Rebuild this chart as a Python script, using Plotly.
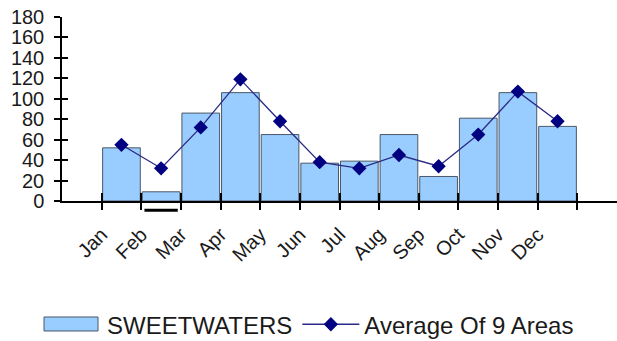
import plotly.graph_objects as go

# Monthly values
months = ["Jan", "Feb", "Mar", "Apr", "May", "Jun",
          "Jul", "Aug", "Sep", "Oct", "Nov", "Dec"]
sweetwaters = [52, 9, 86, 106, 65, 37, 39, 65, 24, 81, 106, 73]
average_9_areas = [55, 32, 72, 119, 78, 38, 32, 45, 34, 65, 107, 78]
y_ticks = [0, 20, 40, 60, 80, 100, 120, 140, 160, 180]

FONT = "Liberation Sans, Arial, sans-serif"
TXT = "#1a1a1a"
BAR_FILL = "#99CCFF"
BAR_EDGE = "#4a5868"
NAVY = "#000080"
CLEAR = "rgba(0,0,0,0)"

n = len(months)
x_range = [-1.5, n + 0.5]          # one empty slot either side of the months
boundaries = [i - 0.5 for i in range(n + 1)]

fig = go.Figure()

fig.add_trace(go.Bar(
    x=months, y=sweetwaters, name="SWEETWATERS", showlegend=False,
    marker=dict(color=BAR_FILL, line=dict(color=BAR_EDGE, width=1)),
))
# legend entry for the bars (its swatch is drawn as a wide rectangle below)
fig.add_trace(go.Scatter(
    x=[None], y=[None], name="SWEETWATERS", mode="markers",
    marker=dict(color=CLEAR, size=1, line=dict(width=0)), hoverinfo="skip",
))
fig.add_trace(go.Scatter(
    x=months, y=average_9_areas, name="Average Of 9 Areas",
    mode="lines+markers",
    line=dict(color="#2a2a85", width=1.3),
    marker=dict(symbol="diamond", size=11, color=NAVY),
))

# month labels sit at the left edge of each month slot
fig.add_trace(go.Scatter(x=[0], y=[0], xaxis="x2", yaxis="y",
                         mode="markers", marker=dict(opacity=0),
                         showlegend=False, hoverinfo="skip"))
# inward tick marks for both axes (ticks cross the axis lines)
fig.add_trace(go.Scatter(x=[0], y=[0], xaxis="x3", yaxis="y2",
                         mode="markers", marker=dict(opacity=0),
                         showlegend=False, hoverinfo="skip"))

fig.update_layout(
    width=617, height=341,
    margin=dict(l=62, r=0, t=17, b=140, autoexpand=False),
    paper_bgcolor="white", plot_bgcolor="white",
    font=dict(family=FONT, size=20, color=TXT),
    bargap=0.05,
    xaxis=dict(
        type="category", range=x_range, automargin=False,
        showline=True, linecolor="black", linewidth=1.5,
        ticks="outside", ticklen=7, tickcolor="black", tickwidth=1.5,
        tickson="boundaries", showticklabels=False,
        showgrid=False, zeroline=False,
    ),
    xaxis2=dict(
        overlaying="x", anchor="y", side="bottom", type="linear",
        range=x_range, automargin=False,
        tickmode="array", tickvals=boundaries[:n], ticktext=months,
        tickangle=-45, ticks="", ticklabelstandoff=17,
        tickfont=dict(family=FONT, size=20, color=TXT),
        showline=False, showgrid=False, zeroline=False,
    ),
    xaxis3=dict(
        overlaying="x", anchor="y2", type="linear", range=x_range,
        automargin=False,
        tickmode="array", tickvals=boundaries,
        ticks="inside", ticklen=8, tickcolor="black", tickwidth=1.5,
        showticklabels=False, showline=False, showgrid=False, zeroline=False,
    ),
    yaxis=dict(
        range=[0, 180], tickmode="array", tickvals=y_ticks, automargin=False,
        showline=True, linecolor="black", linewidth=1.5,
        ticks="outside", ticklen=6, tickcolor="black", tickwidth=1.5,
        ticklabelstandoff=6,
        tickfont=dict(family=FONT, size=20, color=TXT),
        showgrid=False, zeroline=False,
    ),
    yaxis2=dict(
        overlaying="y", anchor="x3", range=[0, 180], automargin=False,
        tickmode="array", tickvals=y_ticks,
        ticks="inside", ticklen=6, tickcolor="black", tickwidth=1.5,
        showticklabels=False, showline=False, showgrid=False, zeroline=False,
    ),
    legend=dict(
        orientation="h", x=-0.0396, xanchor="left", y=-0.672, yanchor="middle",
        font=dict(family=FONT, size=24, color=TXT),
        bgcolor=CLEAR,
        itemwidth=57, tracegroupgap=0, traceorder="normal",
    ),
    showlegend=True,
)

# wide swatch for the bar series in the legend
fig.add_shape(type="rect", xref="paper", yref="paper",
              x0=-0.0324, x1=0.0649, y0=-0.7065, y1=-0.6304,
              fillcolor=BAR_FILL, line=dict(color=BAR_EDGE, width=1))

# underline beneath the February slot
fig.add_shape(type="line", xref="x", yref="paper",
              x0=0.58, x1=1.42, y0=-0.05, y1=-0.05,
              line=dict(color="black", width=3))

fig.write_html("out.html")
